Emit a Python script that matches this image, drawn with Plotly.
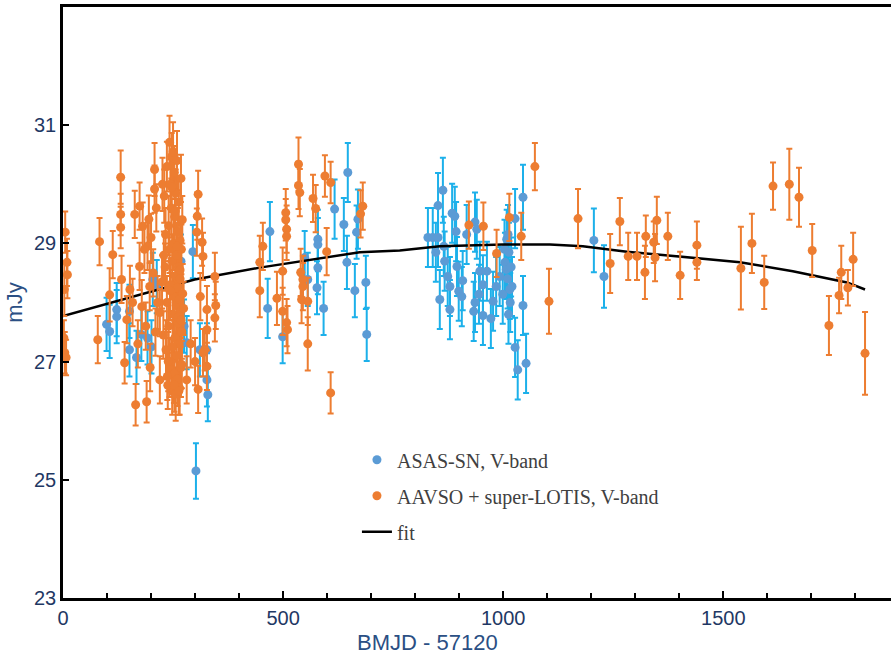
"""Light curve: ASAS-SN and AAVSO + super-LOTIS V-band fluxes with fit."""

import plotly.graph_objects as go

# ASAS-SN, V-band (BMJD - 57120, mJy, error)
asas_x = [99, 106, 122, 122, 151, 167, 178, 192, 201, 204, 213, 151, 295, 281,
          311, 327, 327, 329, 302, 268, 275,
          465, 470, 499, 549, 579, 579, 556, 579, 577, 592, 617, 638, 647, 645,
          663, 667, 670, 688, 690,
          829, 840, 852, 847, 852, 863, 865, 867, 874, 856, 879, 879, 884, 890,
          893, 895, 899, 906, 908, 917, 936, 940, 936, 933, 945, 947, 954, 954,
          963, 972, 977, 984, 992, 999, 1004, 1007, 1008, 1011, 1013, 1015, 1020,
          1027, 1045, 1045, 1027, 1033, 1052, 1003, 1010, 1016, 1018, 1012,
          1206, 1229]
asas_y = [27.63, 27.51, 27.88, 27.76, 27.2, 27.07, 27.46, 27.4, 27.25, 28.39,
          28.27, 27.85, 28.86, 27.32, 27.2, 27.2, 26.69, 26.44, 25.15, 28.7, 27.6,
          27.9, 29.2, 27.42, 28.76, 29.07, 28.98, 28.39, 28.59, 28.25, 27.9, 29.58,
          29.32, 30.2, 28.68, 28.2, 29.19, 29.41, 28.34, 27.46,
          29.1, 29.1, 29.1, 28.85, 29.64, 29.9, 28.95, 28.7, 28.44, 28.05, 28.27,
          27.88, 29.51, 29.46, 29.2, 28.61, 28.19, 28.1, 28.37, 29.15, 29.36,
          29.24, 28.0, 27.85, 28.14, 28.53, 28.3, 27.78, 28.53, 27.73, 28.02,
          28.27, 28.44, 28.14, 28.68, 28.56, 29.07, 29.15, 28.85, 28.22, 28.27,
          29.42, 29.78, 27.95, 27.24, 26.86, 26.97, 28.9, 28.4, 28.0, 28.6, 27.8,
          29.05, 28.44]
asas_err = [0.45, 0.45, 0.45, 0.45, 0.45, 0.45, 0.45, 0.45, 0.45, 0.45,
            0.45, 0.45, 0.45, 0.45, 0.45, 0.45, 0.45, 0.45, 0.47, 0.45, 0.45,
            0.5, 0.5, 0.45, 0.45, 0.5, 0.45, 0.45, 0.45, 0.45, 0.45, 0.5,
            0.45, 0.5, 0.45, 0.45, 0.45, 0.5, 0.45, 0.45,
            0.5, 0.5, 0.5, 0.5, 0.55, 0.55, 0.5, 0.5, 0.5, 0.5, 0.5,
            0.5, 0.5, 0.5, 0.5, 0.5, 0.5, 0.5, 0.5, 0.5, 0.5,
            0.5, 0.5, 0.5, 0.5, 0.5, 0.5, 0.5, 0.5, 0.5, 0.5,
            0.5, 0.5, 0.5, 0.5, 0.5, 0.5, 0.5, 0.5, 0.5, 0.5,
            0.5, 0.55, 0.5, 0.5, 0.5, 0.5, 0.5, 0.5, 0.5, 0.5, 0.5,
            0.54, 0.53]

# AAVSO + super-LOTIS, V-band
aavso_x = [3, 5, 9, 10, 4, 7, 2,
           79, 83, 106, 113, 131, 131, 131, 133, 145, 140, 152, 163, 165, 174,
           174, 179, 190, 181, 208, 208, 192, 195, 197, 220, 226, 220, 242, 247,
           185, 200, 205, 210, 215, 188, 170, 158, 198, 212,
           230, 232, 234, 236, 236, 238, 240, 240, 242, 242, 244, 244, 246, 246,
           248, 248, 250, 250, 251, 252, 252, 253, 254, 254, 255, 256, 256, 257,
           258, 258, 259, 260, 260, 261, 262, 262, 263, 264, 264, 265, 266, 266,
           267, 268, 268, 269, 270, 271, 272,
           225, 228, 233, 237, 243, 249, 255, 261, 266, 270, 274, 229, 239, 247,
           253, 259, 263, 268,
           307, 304, 327, 327, 327, 345, 345, 318, 307, 281, 347, 305, 316, 318,
           290, 300, 312, 322,
           447, 447, 454, 486, 499, 499, 506, 506, 508, 508, 508, 510, 535, 535,
           538, 540, 545, 542, 545, 556, 556, 568, 574, 595, 608, 599, 608, 676,
           681,
           922, 955, 985, 1014, 1041, 1072, 1104, 1170,
           1243, 1265, 1284, 1304, 1322, 1324, 1342, 1345, 1349, 1374, 1402, 1440,
           1440, 1540, 1565, 1593, 1613, 1650, 1672, 1702, 1740, 1763, 1768, 1783,
           1795, 1822]
aavso_y = [28.22, 29.19, 28.68, 28.47, 27.15, 27.07, 27.4,
           27.37, 29.03, 28.13, 28.81, 30.12, 29.49, 29.27, 28.39, 27.71, 26.98,
           28.22, 29.49, 26.27, 29.63, 28.61, 27.93, 26.32, 29.29, 30.25, 29.92,
           28.95, 29.41, 28.27, 27.83, 30.0, 26.69, 30.71, 30.47,
           28.9, 29.1, 28.5, 27.5, 28.0, 27.6, 27.3, 28.0, 26.9, 29.6,
           29.8, 28.6, 27.2, 30.3, 28.0, 26.6, 29.3, 27.6, 28.9, 26.9, 30.0, 28.3,
           27.0, 29.6, 28.7, 26.5, 30.55, 27.8, 29.0, 28.1, 26.8, 30.2, 27.4,
           29.45, 28.45, 26.45, 29.85, 27.95, 28.8, 27.1, 30.4, 28.25, 26.7, 29.2,
           27.65, 28.6, 29.7, 27.3, 28.05, 26.55, 29.05, 28.4, 27.85, 30.1, 26.9,
           28.9, 27.5, 29.4, 28.15,
           28.35, 27.45, 29.15, 26.75, 28.2, 27.25, 29.55, 27.75, 28.55, 26.95,
           27.9, 28.8, 27.0, 29.95, 26.6, 28.95, 26.5, 27.7,
           29.83, 29.19, 27.88, 27.54, 26.92, 28.44, 27.74, 27.15, 26.53, 26.69,
           27.95, 29.46, 29.02, 28.78, 27.3, 27.0, 28.1, 27.2,
           28.68, 28.2, 28.95, 28.07, 28.53, 27.85, 29.52, 29.4, 29.24, 29.12,
           27.66, 27.54, 30.34, 29.98, 29.86, 28.51, 28.39, 28.05, 28.27, 28.02,
           27.3, 29.76, 29.59, 30.14, 30.03, 28.86, 26.47, 29.5, 29.63,
           29.31, 29.29, 28.83, 29.44, 29.12, 30.3, 28.02, 29.42,
           28.66, 29.37, 28.78, 28.78, 28.51, 29.12, 29.02, 28.76, 29.39, 29.12,
           28.46, 28.97, 28.68, 28.58, 29.0, 28.34, 29.97, 30.0, 29.78, 28.88,
           27.61, 28.12, 28.51, 28.25, 28.73, 27.14]
aavso_err = [0.45, 0.35, 0.4, 0.4, 0.35, 0.3, 0.3,
             0.4, 0.4, 0.45, 0.4, 0.45, 0.35, 0.35, 0.4, 0.4, 0.35,
             0.4, 0.4, 0.35, 0.4, 0.4, 0.45, 0.35, 0.4, 0.45, 0.4,
             0.4, 0.4, 0.4, 0.4, 0.45, 0.4, 0.45, 0.4,
             0.4, 0.4, 0.4, 0.4, 0.45, 0.4, 0.4, 0.4, 0.4, 0.4,
             0.45, 0.4, 0.5, 0.42, 0.45, 0.4, 0.5, 0.45, 0.4, 0.5, 0.42, 0.45,
             0.4, 0.5, 0.45, 0.4, 0.5, 0.42, 0.45, 0.4, 0.5, 0.45, 0.4,
             0.5, 0.42, 0.45, 0.4, 0.5, 0.45, 0.4, 0.5, 0.42, 0.45, 0.4,
             0.5, 0.45, 0.4, 0.5, 0.42, 0.45, 0.4, 0.5, 0.45, 0.4, 0.5,
             0.42, 0.45, 0.4, 0.5,
             0.45, 0.4, 0.45, 0.4, 0.5, 0.45, 0.4, 0.5, 0.45, 0.4,
             0.45, 0.4, 0.5, 0.42, 0.45, 0.4, 0.4, 0.45,
             0.4, 0.4, 0.4, 0.35, 0.4, 0.4, 0.4, 0.4, 0.4, 0.4,
             0.4, 0.4, 0.4, 0.4, 0.4, 0.4, 0.4, 0.35,
             0.45, 0.45, 0.4, 0.45, 0.4, 0.4, 0.4, 0.35, 0.4, 0.4,
             0.4, 0.4, 0.45, 0.4, 0.4, 0.4, 0.4, 0.4, 0.4, 0.4,
             0.45, 0.4, 0.4, 0.35, 0.35, 0.4, 0.35, 0.4, 0.4,
             0.4, 0.4, 0.4, 0.4, 0.4, 0.4, 0.55, 0.5,
             0.5, 0.4, 0.4, 0.4, 0.45, 0.35, 0.35, 0.4, 0.4, 0.4,
             0.4, 0.4, 0.3, 0.7, 0.5, 0.45, 0.4, 0.6, 0.5, 0.45,
             0.5, 0.3, 0.45, 0.3, 0.45, 0.7]

# fit curve
fit_x = [0, 202, 299, 447, 674, 765, 856, 1000, 1106, 1181, 1281, 1356, 1447,
         1538, 1658, 1781, 1822]
fit_y = [27.77, 28.19, 28.39, 28.59, 28.85, 28.88, 28.95, 28.98, 28.98, 28.95,
         28.86, 28.81, 28.74, 28.68, 28.53, 28.34, 28.22]

tick_colour = "#1f3864"
title_colour = "#2b4f84"

fig = go.Figure()

fig.add_trace(
    go.Scatter(
        x=asas_x,
        y=asas_y,
        mode="markers",
        name="ASAS-SN, V-band",
        marker={"color": "#5b9bd5", "size": 9},
        error_y={"type": "data", "array": asas_err, "color": "#1cb0ea",
                 "thickness": 2, "width": 3},
        legendgroup="asas",
        legendrank=1,
    ),
)
fig.add_trace(
    go.Scatter(
        x=fit_x,
        y=fit_y,
        mode="lines",
        name="fit",
        line={"color": "black", "width": 2.5},
        legendgroup="fit",
        legendrank=3,
    ),
)
fig.add_trace(
    go.Scatter(
        x=aavso_x,
        y=aavso_y,
        mode="markers",
        name="AAVSO + super-LOTIS, V-band",
        marker={"color": "#ed7d31", "size": 9},
        error_y={"type": "data", "array": aavso_err, "color": "#ed7d31",
                 "thickness": 2, "width": 3},
        legendgroup="aavso",
        legendrank=2,
    ),
)

fig.update_layout(
    width=891,
    height=654,
    margin={"l": 63, "r": 0, "t": 7, "b": 56, "pad": 0},
    paper_bgcolor="white",
    plot_bgcolor="white",
    font={"family": "Arial, Liberation Sans, sans-serif", "color": tick_colour},
    legend={
        "x": 0.355,
        "y": 0.267,
        "xanchor": "left",
        "yanchor": "top",
        "bgcolor": "rgba(0,0,0,0)",
        "font": {"family": "Liberation Serif, Times New Roman, serif",
                 "size": 20, "color": "#404040"},
        "traceorder": "grouped",
        "tracegroupgap": 7,
    },
)

# x title sits left of the plot centre in the original, so place it by hand
fig.add_annotation(
    text="BMJD - 57120",
    xref="paper",
    yref="paper",
    x=0.44,
    y=-0.075,
    xanchor="center",
    yanchor="middle",
    showarrow=False,
    font={"size": 22, "color": title_colour},
)

fig.update_xaxes(
    range=[0, 1881],
    tickvals=[0, 500, 1000, 1500],
    ticks="inside",
    ticklen=7,
    tickwidth=2,
    tickcolor="black",
    minor={"dtick": 100, "ticks": "inside", "ticklen": 5, "tickwidth": 2,
           "tickcolor": "black"},
    showline=True,
    linecolor="black",
    linewidth=2.5,
    mirror=True,
    showgrid=False,
    zeroline=False,
    automargin=False,
    tickfont={"size": 20, "color": tick_colour},
)
fig.update_yaxes(
    range=[23, 33],
    tickvals=[23, 25, 27, 29, 31],
    ticks="inside",
    ticklen=6,
    tickwidth=2,
    tickcolor="black",
    showline=True,
    linecolor="black",
    linewidth=2.5,
    showgrid=False,
    zeroline=False,
    automargin=False,
    tickfont={"size": 20, "color": tick_colour},
    title={"text": "mJy", "font": {"size": 22, "color": title_colour},
           "standoff": 6},
)

# the page body has a default margin; drop it so the figure fills the window
fig.write_html(
    "out.html",
    config={"displayModeBar": False},
    post_script="document.body.style.margin = '0px';",
)
